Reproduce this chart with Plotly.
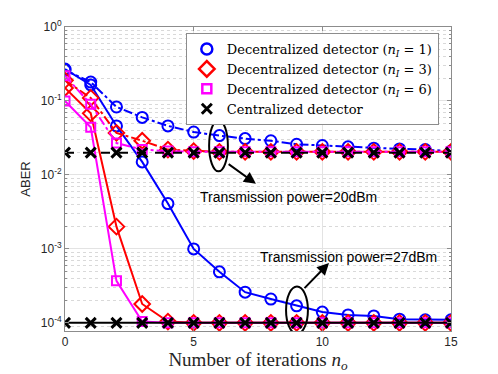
import plotly.graph_objects as go

iters = list(range(16))

# transmission power 27 dBm (solid)
dec1_27 = [0.27, 0.165, 0.046, 0.015, 0.0041, 0.001, 0.00049, 0.00026, 0.00021,
           0.00017, 0.00014, 0.000128, 0.000124, 0.000112, 0.00011, 0.00011]
dec3_27 = [0.15, 0.068, 0.002, 0.00018, 0.000104, 0.0001, 0.0001, 0.0001, 0.0001,
           0.0001, 0.0001, 0.0001, 0.0001, 0.0001, 0.0001, 0.0001]
dec6_27 = [0.1, 0.044, 0.00037, 0.000104, 0.0001, 0.0001, 0.0001, 0.0001, 0.0001,
           0.0001, 0.0001, 0.0001, 0.0001, 0.0001, 0.0001, 0.0001]
cen_27 = [0.0001] * 16

# transmission power 20 dBm (dash-dot)
dec1_20 = [0.26, 0.18, 0.083, 0.06, 0.046, 0.038, 0.034, 0.031, 0.029,
           0.026, 0.025, 0.024, 0.023, 0.0225, 0.022, 0.021]
dec3_20 = [0.19, 0.11, 0.037, 0.029, 0.022, 0.021, 0.0205, 0.0205, 0.0205,
           0.0205, 0.0205, 0.0205, 0.0205, 0.0205, 0.0205, 0.0205]
dec6_20 = [0.22, 0.09, 0.027, 0.022, 0.021, 0.0205, 0.0205, 0.0205, 0.0205,
           0.0205, 0.0205, 0.0205, 0.0205, 0.0205, 0.0205, 0.0205]
cen_20 = [0.02] * 16

legend_names = [
    "Decentralized detector (<i>n<sub>I</sub></i> = 1)",
    "Decentralized detector (<i>n<sub>I</sub></i> = 3)",
    "Decentralized detector (<i>n<sub>I</sub></i> = 6)",
    "Centralized detector",
]

y_tickvals = [1e-4, 1e-3, 1e-2, 1e-1, 1]
y_ticktext = ["10<sup>-4</sup>", "10<sup>-3</sup>", "10<sup>-2</sup>",
              "10<sup>-1</sup>", "10<sup>0</sup>"]

styles = [
    dict(color="#0000ff", symbol="circle-open", size=11),
    dict(color="#ff0000", symbol="diamond-open", size=12),
    dict(color="#ff00ff", symbol="square-open", size=9),
    dict(color="#000000", symbol="x-thin-open", size=10),
]

fig = go.Figure()


def add_series(y, st, dash):
    fig.add_trace(go.Scatter(
        x=iters, y=y, mode="lines+markers", showlegend=False,
        line=dict(color=st["color"], width=2, dash=dash),
        marker=dict(symbol=st["symbol"], size=st["size"], color=st["color"],
                    line=dict(color=st["color"], width=3 if "x" in st["symbol"] else 2))
    ))


for y20, y27, st in zip([dec1_20, dec3_20, dec6_20], [dec1_27, dec3_27, dec6_27], styles[:3]):
    add_series(y20, st, "dashdot")
    add_series(y27, st, "solid")
add_series(cen_20, styles[3], "dash")
add_series(cen_27, styles[3], "solid")

# legend-only entries (markers only)
for name, st in zip(legend_names, styles):
    fig.add_trace(go.Scatter(
        x=[None], y=[None], mode="markers", name=name,
        marker=dict(symbol=st["symbol"], size=st["size"], color=st["color"],
                    line=dict(color=st["color"], width=3 if "x" in st["symbol"] else 2.5))
    ))

# ellipses marking the two power groups
fig.add_shape(type="circle", xref="x", yref="y", x0=5.6, x1=6.33, y0=0.0112, y1=0.055,
              line=dict(color="black", width=2))
fig.add_shape(type="circle", xref="x", yref="y", x0=8.59, x1=9.44, y0=0.000071, y1=0.00031,
              line=dict(color="black", width=2))

# annotations on log axes take log10 positions
fig.add_annotation(x=7.42, y=-2.12, ax=6.3, ay=-1.84, axref="x", ayref="y",
                   xref="x", yref="y", text="", showarrow=True,
                   arrowhead=2, arrowsize=1.2, arrowwidth=2, arrowcolor="black")
fig.add_annotation(x=10.26, y=-3.19, ax=9.25, ay=-3.55, axref="x", ayref="y",
                   xref="x", yref="y", text="", showarrow=True,
                   arrowhead=2, arrowsize=1.2, arrowwidth=2, arrowcolor="black")
fig.add_annotation(x=8.67, y=-2.3, xref="x", yref="y", showarrow=False,
                   text="Transmission power=20dBm",
                   font=dict(family="Liberation Sans", size=14, color="black"))
fig.add_annotation(x=11.0, y=-3.11, xref="x", yref="y", showarrow=False,
                   text="Transmission power=27dBm",
                   font=dict(family="Liberation Sans", size=14, color="black"))

fig.update_layout(
    width=498, height=374,
    margin=dict(l=65, r=47, t=27, b=43),
    paper_bgcolor="white", plot_bgcolor="white",
    legend=dict(x=0.313, y=0.98, xanchor="left", yanchor="top",
                bgcolor="white", bordercolor="#8c8c8c", borderwidth=1,
                font=dict(family="DejaVu Serif", size=13, color="black"),
                tracegroupgap=0, itemwidth=30),
)

fig.update_xaxes(
    range=[0, 15], tickvals=[0, 5, 10, 15], automargin=False,
    showline=True, linecolor="#8c8c8c", linewidth=1, mirror="ticks",
    ticks="inside", ticklen=4, tickcolor="#8c8c8c",
    showgrid=True, gridcolor="#e3e3e3", gridwidth=1, zeroline=False,
    tickfont=dict(family="Liberation Sans", size=12, color="#262626"),
    title=dict(text="Number of iterations <i>n<sub>o</sub></i>", standoff=2,
               font=dict(family="Liberation Serif", size=19, color="#262626")),
)
fig.update_yaxes(
    type="log", range=[-4.11, 0], tickvals=y_tickvals, ticktext=y_ticktext,
    automargin=False,
    showline=True, linecolor="#8c8c8c", linewidth=1, mirror="ticks",
    ticks="inside", ticklen=4, tickcolor="#8c8c8c",
    showgrid=True, gridcolor="#e3e3e3", gridwidth=1, zeroline=False,
    minor=dict(dtick="D1", ticks="inside", ticklen=2, tickcolor="#8c8c8c",
               showgrid=True, gridcolor="#d9d9d9", griddash="dot"),
    tickfont=dict(family="Liberation Sans", size=12, color="#262626"),
    title=dict(text="ABER", standoff=7,
               font=dict(family="Liberation Sans", size=13, color="#262626")),
)

# the page body has a default 8px margin; remove it so the figure fills the window
fig.write_html("out.html", config={"displayModeBar": False},
               post_script="document.body.style.margin='0';document.body.style.overflow='hidden';")
